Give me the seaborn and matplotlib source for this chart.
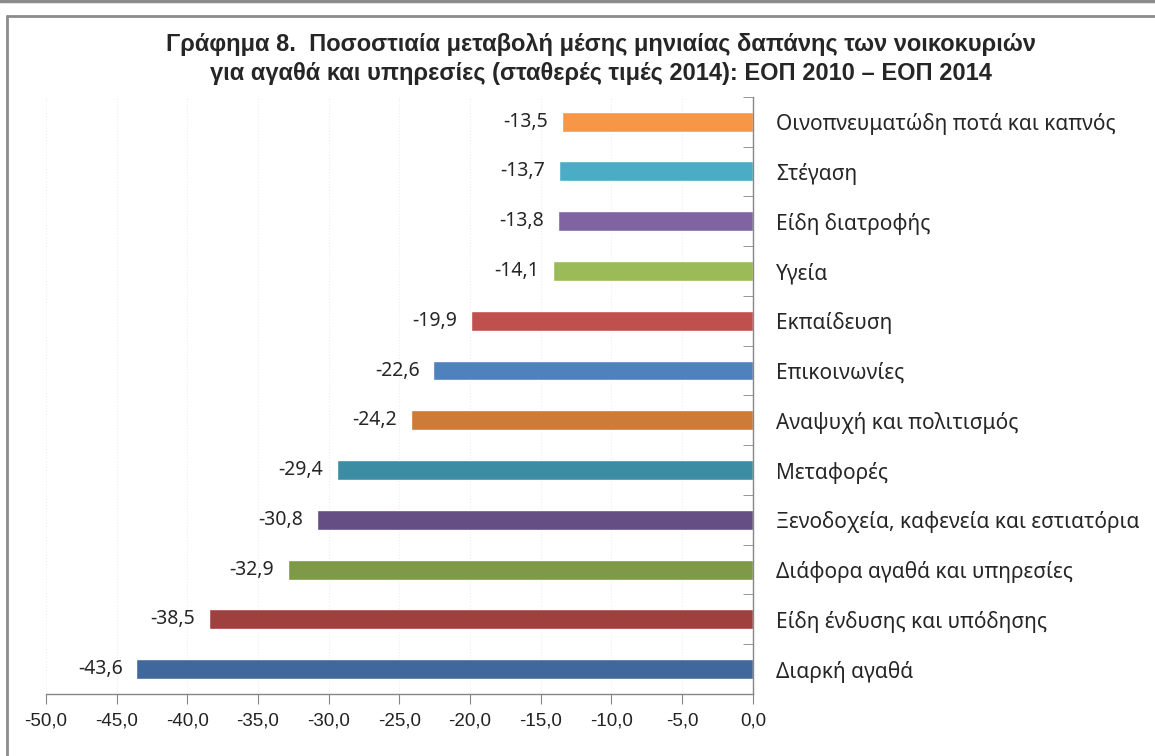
import pandas as pd
import matplotlib
matplotlib.use("Agg")
import matplotlib.pyplot as plt
import seaborn as sns
from matplotlib.lines import Line2D
from matplotlib.ticker import FuncFormatter, FixedLocator

# Data (top to bottom as in the chart)
categories = [
    "Οινοπνευματώδη ποτά και καπνός",
    "Στέγαση",
    "Είδη διατροφής",
    "Υγεία",
    "Εκπαίδευση",
    "Επικοινωνίες",
    "Αναψυχή και πολιτισμός",
    "Μεταφορές",
    "Ξενοδοχεία, καφενεία και εστιατόρια",
    "Διάφορα αγαθά και υπηρεσίες",
    "Είδη ένδυσης και υπόδησης",
    "Διαρκή αγαθά",
]
changes = [-13.5, -13.7, -13.8, -14.1, -19.9, -22.6, -24.2, -29.4, -30.8, -32.9, -38.5, -43.6]
bar_colors = ["#F79646", "#4BACC6", "#8064A2", "#9BBB59", "#C0504D", "#4F81BD",
              "#CC7B38", "#3C8DA3", "#644E83", "#7E9A48", "#A0403E", "#41689C"]
x_ticks = [-50, -45, -40, -35, -30, -25, -20, -15, -10, -5, 0]

title = ("Γράφημα 8.  Ποσοστιαία μεταβολή μέσης μηνιαίας δαπάνης των νοικοκυριών\n"
         "για αγαθά και υπηρεσίες (σταθερές τιμές 2014): ΕΟΠ 2010 – ΕΟΠ 2014")

df = pd.DataFrame({"cat": categories, "val": changes})

sns.set_style("white")
plt.rcParams["font.family"] = ["Liberation Sans", "DejaVu Sans"]

fig = plt.figure(figsize=(11.55, 7.56), dpi=100)
ax = fig.add_axes([0.0398, 0.082, 0.612, 0.790])

sns.barplot(data=df, x="val", y="cat", hue="cat", palette=bar_colors,
            orient="h", width=0.4, legend=False, ax=ax, saturation=1)

ax.set_xlim(-50, 0)
ax.set_ylim(len(categories) - 0.5, -0.5)
ax.set_xlabel("")
ax.set_ylabel("")

# value labels
for cont in ax.containers:
    ax.bar_label(cont, labels=[f"{v:.1f}".replace(".", ",") for v in cont.datavalues],
                 padding=10, fontsize=14, family=["Noto Sans", "DejaVu Sans"])

# axes styling
for s in ["top", "left"]:
    ax.spines[s].set_visible(False)
for s in ["bottom", "right"]:
    ax.spines[s].set_color("#868686")
    ax.spines[s].set_linewidth(1)

ax.xaxis.set_major_locator(FixedLocator(x_ticks))
ax.xaxis.set_major_formatter(FuncFormatter(lambda v, p: f"{v:.1f}".replace(".", ",")))
ax.tick_params(axis="x", bottom=True, length=7, color="#868686", pad=6,
               labelsize=13.5, labelcolor="#222222")
ax.grid(axis="x", color="#EEEEEE", linewidth=0.8, linestyle=":")
ax.set_axisbelow(True)

ax.yaxis.tick_right()
ax.tick_params(axis="y", which="major", length=0, pad=17, labelsize=15)
for lbl in ax.get_yticklabels():
    lbl.set_family(["Noto Sans", "DejaVu Sans"])
ax.yaxis.set_minor_locator(FixedLocator([i + 0.5 for i in range(-1, len(categories))]))
ax.tick_params(axis="y", which="minor", right=True, direction="in", length=7, color="#868686")

fig.text(0.52, 0.956, title, ha="center", va="top", fontsize=17, fontweight="bold",
         family=["Liberation Sans Narrow", "Liberation Sans", "DejaVu Sans"], linespacing=1.3)

# frame lines
fig.add_artist(Line2D([0, 1], [1 - 1 / 756, 1 - 1 / 756], color="#8C8C8C", lw=2.5, transform=fig.transFigure))
fig.add_artist(Line2D([7 / 1155, 1], [1 - 16 / 756, 1 - 16 / 756], color="#8C8C8C", lw=2, transform=fig.transFigure))
fig.add_artist(Line2D([7 / 1155, 7 / 1155], [0, 1 - 16 / 756], color="#8C8C8C", lw=2, transform=fig.transFigure))

fig.savefig("out.png", dpi=100)
